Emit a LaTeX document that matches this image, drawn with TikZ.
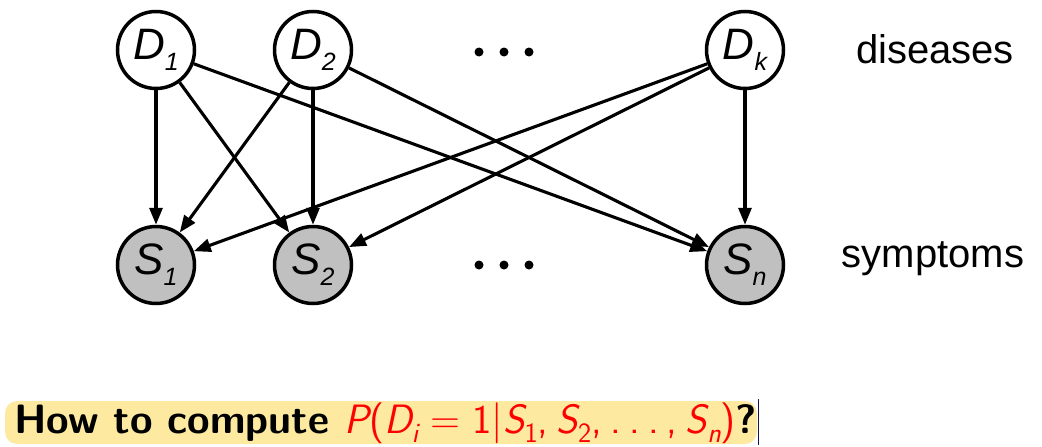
\documentclass[tikz,border=0pt]{standalone}
\usepackage{fontspec}
\usetikzlibrary{arrows.meta}
\newfontfamily\helv{Liberation Sans}
\definecolor{nodegray}{RGB}{192,192,192}
\definecolor{hilite}{RGB}{253,234,160}
\definecolor{markbar}{RGB}{20,20,90}
% variable label: italic letter with a lowered italic index
\newcommand{\varlab}[2]{{\helv\itshape\fontsize{44}{44}\selectfont #1\raisebox{-11pt}{\fontsize{25}{25}\selectfont #2}}}
% spacing used in the formula
\newcommand{\thn}{\hspace{0.2em}}
\newcommand{\thk}{\hspace{0.3em}}
% index set lower and larger than \textsubscript
\newcommand{\idx}[1]{\raisebox{-0.22em}{\fontsize{28}{28}\selectfont #1}}
\begin{document}
\begin{tikzpicture}[x=1pt,y=-1pt,
  var/.style={circle,draw,line width=3.5pt,minimum size=77pt,inner sep=0pt,fill=white},
  obs/.style={var,fill=nodegray},
  edge/.style={line width=3.1pt,-{Triangle[length=17pt,width=13pt]}},
  dot/.style={circle,fill=black,inner sep=0pt,minimum size=9pt},
  side/.style={font=\helv\fontsize{40}{40}\selectfont,anchor=base,inner sep=0pt}]
\useasboundingbox (0,0) rectangle (1042,447);

% diseases (top row) and symptoms (bottom row)
\node[var] (d1) at (156,50) {\varlab{D}{1}};
\node[var] (d2) at (313,50) {\varlab{D}{2}};
\node[var] (dk) at (745,50) {\varlab{D}{k}};
\node[obs] (s1) at (156,265) {\varlab{S}{1}};
\node[obs] (s2) at (313,265) {\varlab{S}{2}};
\node[obs] (sn) at (745,265) {\varlab{S}{n}};

% ellipses between the columns
\foreach \x/\n in {479/a,504/b,529/c}{
  \node[dot] (td\n) at (\x,52) {};
  \node[dot] (bd\n) at (\x,265) {};
}

% every disease points to every symptom
\foreach \d in {d1,d2,dk}
  \foreach \s in {s1,s2,sn}
    \draw[edge] (\d) -- (\s);

% row captions
\node[side] (lblD) at (935,63) {diseases};
\node[side] (lblS) at (933,267) {symptoms};

% question line with its highlight
\fill[hilite,rounded corners=12pt] (5,401) rectangle (757,444);
\node[anchor=base west,inner sep=0pt,font=\sffamily\fontsize{41}{41}\selectfont] (q) at (14,433)
  {\bfseries How to compute \textcolor{red}{\mdseries
   \itshape P\upshape(\itshape D\idx{i}\upshape\thk=\thk 1|\itshape S\upshape\idx{1},\thn\itshape S\upshape\idx{2},\thn.\thn.\thn.\thn,\thn\itshape S\idx{n}\upshape)}?};
\draw[markbar,line width=1pt] (758,399) -- (758,445);
\end{tikzpicture}
\end{document}
